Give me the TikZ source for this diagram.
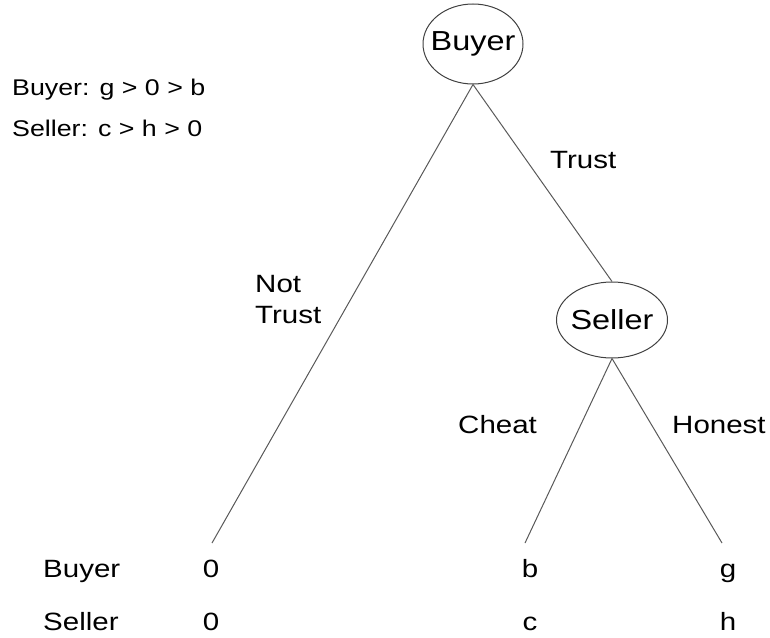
\documentclass[tikz,border=0pt]{standalone}
\usepackage{fontspec}
\setmainfont{Liberation Sans}[FakeStretch=1.18]
\usetikzlibrary{shapes.geometric}
\begin{document}
\begin{tikzpicture}[x=1pt,y=-1pt,
  player/.style={ellipse,draw=black!75,line width=1pt,inner sep=0pt},
  ptext/.style={font=\fontsize{27.5}{30}\selectfont,inner sep=0pt},
  edge/.style={draw=black!65,line width=1pt},
  lab/.style={anchor=base west,inner sep=0pt,font=\fontsize{25}{30}\selectfont},
  pay/.style={anchor=base,inner sep=0pt,font=\fontsize{25}{30}\selectfont},
  note/.style={anchor=base west,inner sep=0pt,font=\fontsize{22.7}{26}\selectfont}]
\useasboundingbox (0,0) rectangle (770,637);
\node[player,minimum width=100pt,minimum height=80pt,
  label={[ptext]center:Buyer}] (buyer) at (473,44) {};
\node[player,minimum width=111pt,minimum height=76pt,
  label={[ptext]center:Seller}] (seller) at (612,320) {};
\coordinate (l1) at (212,543);
\coordinate (l2) at (525,543);
\coordinate (l3) at (722,543);
\draw[edge] (buyer.south) -- (l1);
\draw[edge] (buyer.south) -- (seller.north);
\draw[edge] (seller.south) -- (l2);
\draw[edge] (seller.south) -- (l3);
\node[lab] (trust) at (550,168) {Trust};
\node[lab] (nt1) at (255,292) {Not};
\node[lab] (nt2) at (255,323) {Trust};
\node[lab] (cheat) at (458,433) {Cheat};
\node[lab] (honest) at (672,433) {Honest};
\node[lab] (rb) at (43,577) {Buyer};
\node[lab] (rs) at (43,630) {Seller};
\node[pay] (p1b) at (211,577) {0};
\node[pay] (p1s) at (211,630) {0};
\node[pay] (p2b) at (530,577) {b};
\node[pay] (p2s) at (530,630) {c};
\node[pay] (p3b) at (728,577) {g};
\node[pay] (p3s) at (728,630) {h};
\node[note] (n1) at (12,95) {Buyer: g > 0 > b};
\node[note] (n2) at (12,136) {Seller: c > h > 0};
\end{tikzpicture}
\end{document}
